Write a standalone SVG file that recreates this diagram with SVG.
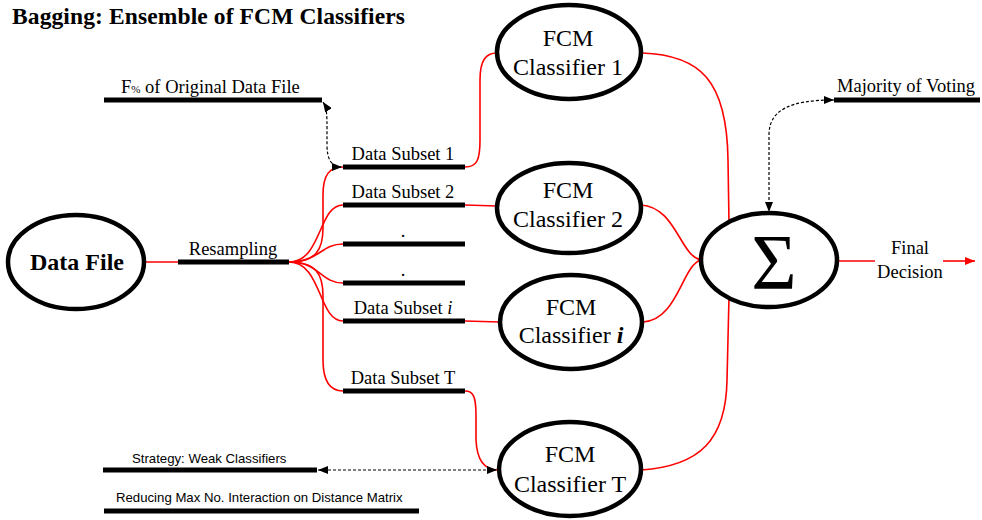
<svg xmlns="http://www.w3.org/2000/svg" width="982" height="520" viewBox="0 0 982 520">
<style>
.serif{font-family:"Liberation Serif","Times New Roman",serif;fill:#000}
.sans{font-family:"Liberation Sans",Arial,sans-serif;fill:#000;font-size:13.2px}
.lbl{font-size:18.5px}
.cls{font-size:24px}
.node{fill:#fff;stroke:#000;stroke-width:4.5}
.bar{stroke:#000;stroke-width:5;fill:none}
.red{stroke:#ff0000;stroke-width:1.6;fill:none}
.dash{stroke:#000;stroke-width:1.2;stroke-dasharray:3,2;fill:none}
</style>
<defs>
<marker id="ah" markerUnits="userSpaceOnUse" markerWidth="11" markerHeight="8" refX="10" refY="4" orient="auto-start-reverse">
<path d="M0,0 L10,4 L0,8 z" fill="#000"/>
</marker>
<marker id="ahr" markerUnits="userSpaceOnUse" markerWidth="11" markerHeight="8" refX="10" refY="4" orient="auto">
<path d="M0,0 L10,4 L0,8 z" fill="#ff0000"/>
</marker>
</defs>
<rect width="982" height="520" fill="#fff"/>
<text class="serif" x="12" y="24" font-size="23.5" font-weight="bold" textLength="393" lengthAdjust="spacing">Bagging: Ensemble of FCM Classifiers</text>

<g id="connectors">
<line class="red" x1="144" y1="262" x2="178" y2="262"/>
<path class="red" d="M289,262 C 316,262 323,250 323,228 L323,195 C 323,174 330,167 343,167"/>
<path class="red" d="M289,262 C 322,262 318,205 343,205"/>
<path class="red" d="M289,262 C 320,262 320,244 343,244"/>
<path class="red" d="M289,262 C 320,262 320,283 343,283"/>
<path class="red" d="M289,262 C 322,262 318,321 343,321"/>
<path class="red" d="M289,262 C 316,262 323,274 323,296 L323,360 C 323,382 330,391 343,391"/>
<path class="red" d="M465,167 C 477,167 480,160 480,140 L480,80 C 480,60 486,53 497,53"/>
<line class="red" x1="465" y1="205" x2="497" y2="206"/>
<line class="red" x1="465" y1="321" x2="500" y2="322"/>
<path class="red" d="M465,391 C 473,391 476,396 476,415 L476,440 C 477,462 486,470 498,470"/>
<path class="red" d="M642,53 C 700,55 727,80 728,160 L729,223"/>
<path class="red" d="M641,205 C 676,207 680,256 701,260"/>
<path class="red" d="M643,322 C 678,320 682,265 701,260"/>
<path class="red" d="M641,470 C 700,466 726,440 727,380 L729,297"/>
<line class="red" x1="837" y1="261" x2="875" y2="261"/>
<line class="red" x1="943" y1="261" x2="975" y2="261" marker-end="url(#ahr)"/>
<path class="dash" d="M323,102 C 327,108 327,115 327,130 L327,145 C 327,160 332,167 342,167" marker-start="url(#ah)" marker-end="url(#ah)"/>
<path class="dash" d="M834,100 C 790,100 769,110 769,135 L769,212" marker-start="url(#ah)" marker-end="url(#ah)"/>
<line class="dash" x1="318" y1="470" x2="497" y2="470" marker-start="url(#ah)" marker-end="url(#ah)"/>
</g>

<g id="data-file">
<ellipse class="node" cx="76" cy="262" rx="68" ry="47"/>
<text class="serif" x="77" y="270" font-size="24" font-weight="bold" text-anchor="middle">Data File</text>
</g>

<g id="resampling">
<line class="bar" x1="178" y1="262" x2="289" y2="262"/>
<text class="serif lbl" x="233" y="255" text-anchor="middle">Resampling</text>
</g>

<g id="original-data">
<line class="bar" x1="104" y1="100" x2="322" y2="100"/>
<text class="serif lbl" x="121" y="93">F<tspan font-size="11">%</tspan> of Original Data File</text>
</g>

<g id="subset-1">
<line class="bar" x1="343" y1="167" x2="465" y2="167"/>
<text class="serif lbl" x="403" y="160" text-anchor="middle">Data Subset 1</text>
</g>
<g id="subset-2">
<line class="bar" x1="343" y1="205" x2="465" y2="205"/>
<text class="serif lbl" x="403" y="198" text-anchor="middle">Data Subset 2</text>
</g>
<g id="subset-dot-1">
<line class="bar" x1="343" y1="244" x2="465" y2="244"/>
<text class="serif lbl" x="403" y="237" text-anchor="middle">.</text>
</g>
<g id="subset-dot-2">
<line class="bar" x1="343" y1="283" x2="465" y2="283"/>
<text class="serif lbl" x="403" y="276" text-anchor="middle">.</text>
</g>
<g id="subset-i">
<line class="bar" x1="343" y1="321" x2="465" y2="321"/>
<text class="serif lbl" x="403" y="314" text-anchor="middle">Data Subset <tspan font-style="italic">i</tspan></text>
</g>
<g id="subset-T">
<line class="bar" x1="343" y1="391" x2="465" y2="391"/>
<text class="serif lbl" x="403" y="384" text-anchor="middle">Data Subset T</text>
</g>

<g id="classifier-1">
<ellipse class="node" cx="569" cy="52" rx="72" ry="47"/>
<text class="serif cls" x="568" y="46" text-anchor="middle">FCM</text>
<text class="serif cls" x="568" y="75" text-anchor="middle">Classifier 1</text>
</g>
<g id="classifier-2">
<ellipse class="node" cx="569" cy="208" rx="72" ry="45"/>
<text class="serif cls" x="568" y="198" text-anchor="middle">FCM</text>
<text class="serif cls" x="568" y="227" text-anchor="middle">Classifier 2</text>
</g>
<g id="classifier-i">
<ellipse class="node" cx="571" cy="322" rx="71" ry="47"/>
<text class="serif cls" x="571" y="315" text-anchor="middle">FCM</text>
<text class="serif cls" x="571" y="343" text-anchor="middle">Classifier <tspan font-weight="bold" font-style="italic">i</tspan></text>
</g>
<g id="classifier-T">
<ellipse class="node" cx="570" cy="469" rx="71" ry="47"/>
<text class="serif cls" x="570" y="462" text-anchor="middle">FCM</text>
<text class="serif cls" x="570" y="492" text-anchor="middle">Classifier T</text>
</g>

<g id="sum">
<ellipse class="node" cx="769" cy="260" rx="68" ry="47"/>
<text class="serif" x="774" y="288" font-size="78" text-anchor="middle">Σ</text>
</g>

<g id="majority">
<line class="bar" x1="834" y1="100" x2="980" y2="100"/>
<text class="serif lbl" x="837" y="92">Majority of Voting</text>
</g>

<g id="final-decision">
<text class="serif lbl" x="910" y="254" text-anchor="middle">Final</text>
<text class="serif lbl" x="910" y="278" text-anchor="middle">Decision</text>
</g>

<g id="strategy">
<line class="bar" x1="103" y1="470" x2="317" y2="470"/>
<text class="sans" x="132" y="463">Strategy: Weak Classifiers</text>
</g>
<g id="reducing">
<line class="bar" x1="104" y1="511" x2="419" y2="511"/>
<text class="sans" x="116" y="502">Reducing Max No. Interaction on Distance Matrix</text>
</g>
</svg>
